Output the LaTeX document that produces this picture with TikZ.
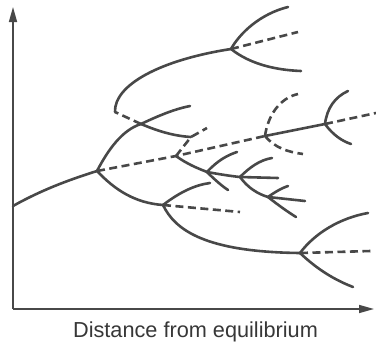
\documentclass[tikz,border=0pt]{standalone}
\usepackage{fontspec}
\setmainfont{Liberation Sans}
\usetikzlibrary{arrows.meta}
\definecolor{lin}{RGB}{72,72,72}
\definecolor{txt}{RGB}{55,55,55}
\tikzset{
  branch/.style={draw=lin, line width=2.6pt, line cap=round},
  unstable/.style={draw=lin, line width=2.6pt, dash pattern=on 8pt off 4.5pt},
  axis/.style={draw=lin, line width=1.6pt, -{Triangle[length=15pt,width=8pt]}},
}
\begin{document}
\begin{tikzpicture}[x=1pt,y=-1pt]
\useasboundingbox (0,0) rectangle (376,343);
% axes
\coordinate (org) at (13,309);
\coordinate (ytip) at (13,7);
\coordinate (xtip) at (374,309);
\draw[axis] (org) -- (ytip);
\draw[axis] (org) -- (xtip);
\node[anchor=base, text=txt, font=\fontsize{21.7}{24}\selectfont, inner sep=0pt] (xl) at (195.5,337) {Distance from equilibrium};
% branch points
\coordinate (O0) at (13,206);
\coordinate (A) at (97,171);
\coordinate (B) at (141,124);
\coordinate (T) at (115,112);
\coordinate (G) at (231,49);
\coordinate (C) at (176,156);
\coordinate (H) at (191,137);
\coordinate (D) at (265,136);
\coordinate (L) at (325,124);
\coordinate (E) at (163,205);
\coordinate (F) at (300,253);
\coordinate (I) at (207,172);
\coordinate (J) at (240,177);
\coordinate (K) at (268,197);
% end points
\coordinate (g1) at (288,7);
\coordinate (g2) at (298,32);
\coordinate (g3) at (301,71);
\coordinate (l1) at (348,91);
\coordinate (l2) at (376,113);
\coordinate (l3) at (351,144);
\coordinate (d1) at (298,94);
\coordinate (d2) at (303,154);
\coordinate (f1) at (368,213);
\coordinate (f2) at (371,251);
\coordinate (f3) at (353,287);
\coordinate (e1) at (210,183);
\coordinate (e2) at (240,212);
\coordinate (b1) at (190,106);
\coordinate (h1) at (207,128);
\coordinate (i1) at (237,152);
\coordinate (i2) at (228,190);
\coordinate (j1) at (272,158);
\coordinate (j2) at (278,178);
\coordinate (k1) at (288,186);
\coordinate (k2) at (305,201);
\coordinate (k3) at (296,217);
% main stem
\draw[branch] (O0) .. controls (45,188) and (75,178) .. (A);
\draw[branch] (A) .. controls (108,150) and (122,130) .. (B);
\draw[branch] (A) .. controls (115,190) and (135,203) .. (E);
\draw[branch] (E) .. controls (175,230) and (205,252) .. (F);
\draw[unstable] (A) -- (C) -- (D);
% upper part
\draw[unstable] (B) -- (T);
\draw[branch] (T) .. controls (114,85) and (160,60) .. (G);
\draw[branch] (G) .. controls (240,33) and (260,14) .. (g1);
\draw[unstable] (G) -- (g2);
\draw[branch] (G) .. controls (250,64) and (275,70) .. (g3);
\draw[branch] (B) .. controls (160,115) and (175,109) .. (b1);
\draw[branch] (B) .. controls (160,132) and (175,136) .. (H);
\draw[unstable] (C) -- (H) -- (h1);
% D and L
\draw[branch] (D) -- (L);
\draw[unstable] (D) .. controls (268,115) and (280,98) .. (d1);
\draw[unstable] (D) .. controls (275,148) and (288,152) .. (d2);
\draw[branch] (L) .. controls (327,108) and (335,97) .. (l1);
\draw[unstable] (L) -- (l2);
\draw[branch] (L) .. controls (333,135) and (342,141) .. (l3);
% E and F
\draw[branch] (E) .. controls (180,192) and (195,185) .. (e1);
\draw[unstable] (E) -- (e2);
\draw[branch] (F) .. controls (315,233) and (340,218) .. (f1);
\draw[unstable] (F) -- (f2);
\draw[branch] (F) .. controls (318,270) and (335,280) .. (f3);
% cascade C-I-J-K
\draw[branch] (C) .. controls (187,164) and (197,168) .. (I);
\draw[branch] (I) .. controls (218,174) and (230,176) .. (J);
\draw[branch] (I) .. controls (218,160) and (228,155) .. (i1);
\draw[branch] (I) .. controls (215,180) and (222,186) .. (i2);
\draw[branch] (J) .. controls (250,167) and (260,160) .. (j1);
\draw[branch] (J) -- (j2);
\draw[branch] (J) .. controls (248,188) and (258,194) .. (K);
\draw[branch] (K) .. controls (275,192) and (282,188) .. (k1);
\draw[branch] (K) -- (k2);
\draw[branch] (K) .. controls (278,205) and (288,212) .. (k3);
\end{tikzpicture}
\end{document}
